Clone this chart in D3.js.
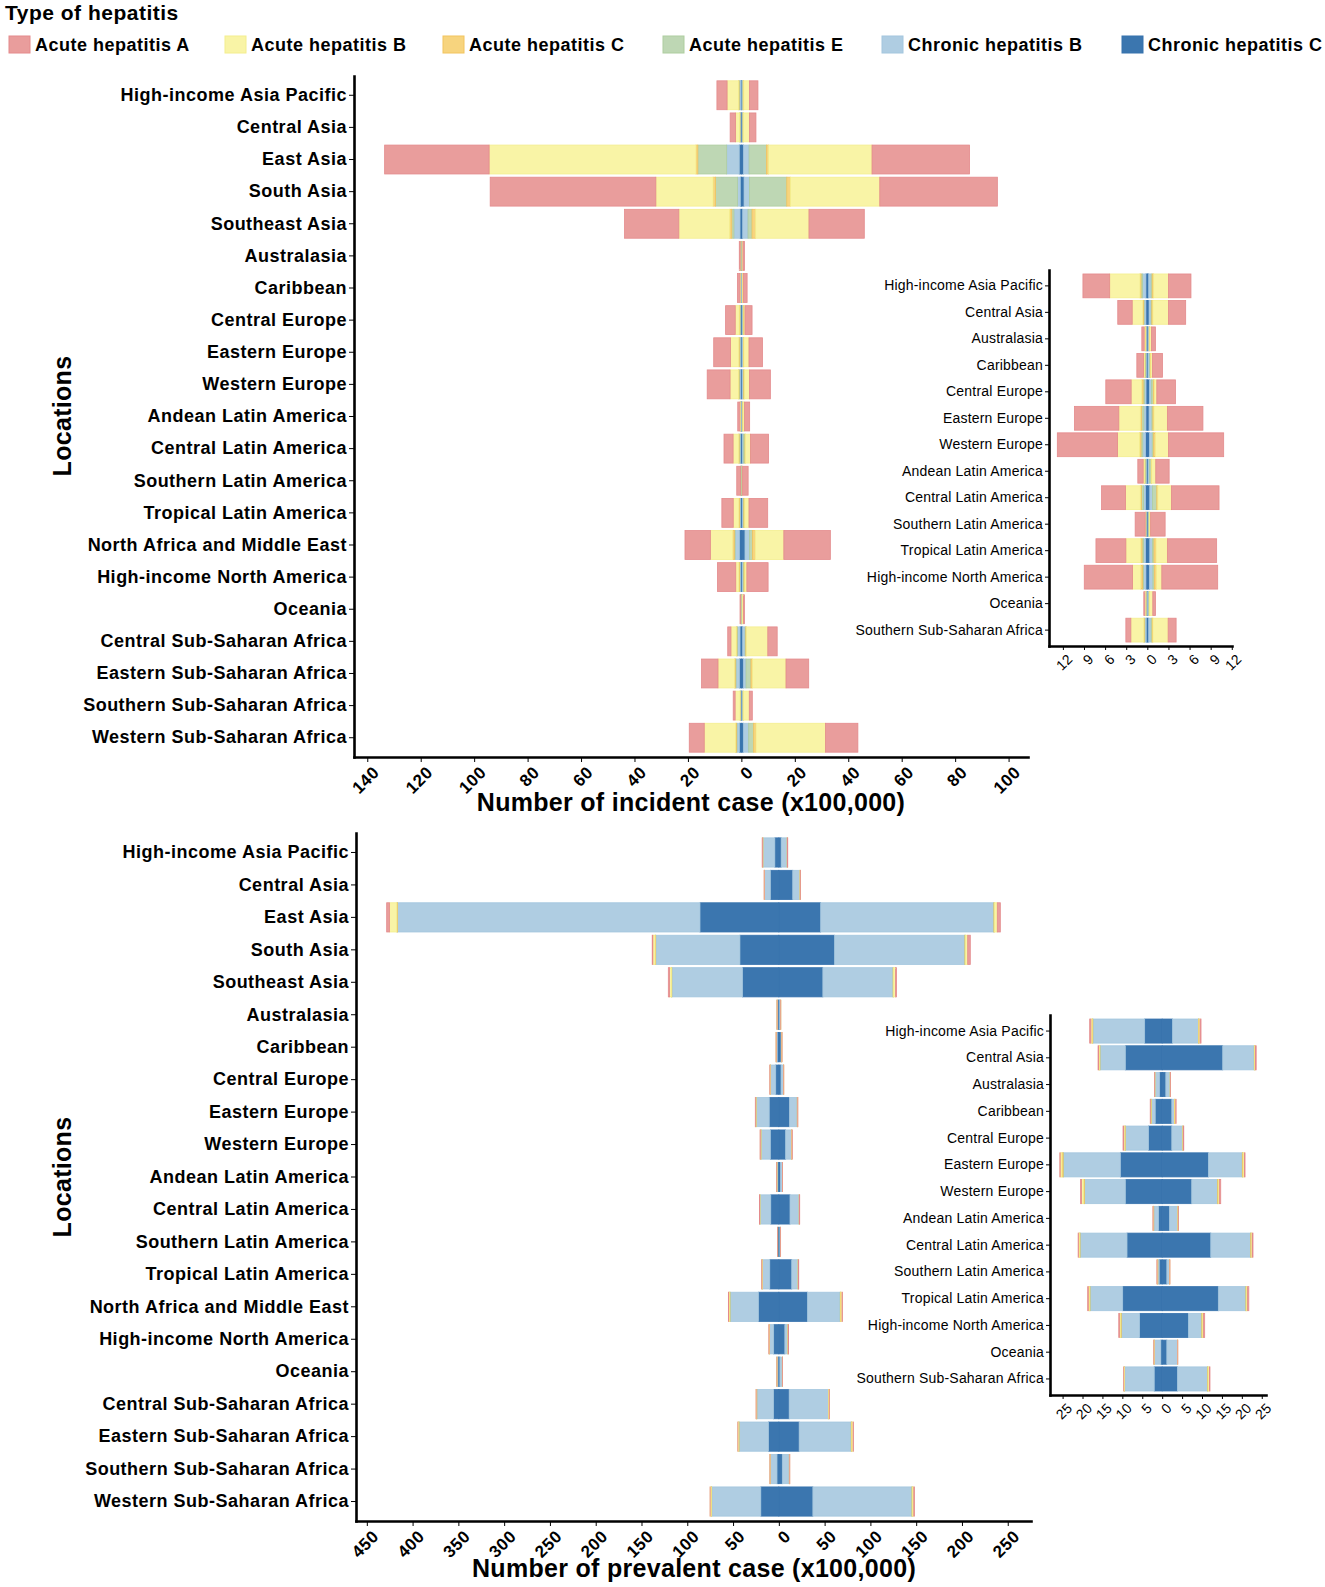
<!DOCTYPE html>
<html>
<head>
<meta charset="utf-8">
<script src="https://cdn.jsdelivr.net/npm/d3@7"></script>
<style>
  body { margin: 0; background: #fff; }
  text { font-family: "Liberation Sans", Arial, sans-serif; }
</style>
</head>
<body>
<svg id="chart" width="1325" height="1587"></svg>
<script>
// Regions, top to bottom
const regions = [
    'High-income Asia Pacific', 'Central Asia', 'East Asia', 'South Asia', 'Southeast Asia',
    'Australasia', 'Caribbean', 'Central Europe', 'Eastern Europe', 'Western Europe',
    'Andean Latin America', 'Central Latin America', 'Southern Latin America', 'Tropical Latin America',
    'North Africa and Middle East', 'High-income North America', 'Oceania',
    'Central Sub-Saharan Africa', 'Eastern Sub-Saharan Africa', 'Southern Sub-Saharan Africa',
    'Western Sub-Saharan Africa'
];
// Regions shown in the zoomed insets
const insetRegions = [
    'High-income Asia Pacific', 'Central Asia', 'Australasia', 'Caribbean', 'Central Europe',
    'Eastern Europe', 'Western Europe', 'Andean Latin America', 'Central Latin America',
    'Southern Latin America', 'Tropical Latin America', 'High-income North America', 'Oceania',
    'Southern Sub-Saharan Africa'
];

const typeNames = ['Acute hepatitis A', 'Acute hepatitis B', 'Acute hepatitis C',
    'Acute hepatitis E', 'Chronic hepatitis B', 'Chronic hepatitis C'];
const typeKeys = ['AHA', 'AHB', 'AHC', 'AHE', 'CHB', 'CHC'];

// Incident cases (x100,000), left half
const incLeftCHC = [0.2, 0.2, 0.8, 0.4, 0.5, 0.1, 0.1, 0.18, 0.2, 0.25, 0.1, 0.25, 0.1, 0.25, 0.75, 0.2, 0.05, 0.5, 0.75, 0.15, 0.75];
const incLeftCHB = [0.5, 0.25, 4.7, 1.1, 2.3, 0.1, 0.12, 0.22, 0.3, 0.4, 0.1, 0.3, 0.08, 0.3, 1.6, 0.35, 0.1, 1.0, 1.25, 0.2, 0.9];
const incLeftAHE = [0.2, 0.1, 10.8, 8.2, 0.8, 0.03, 0.12, 0.2, 0.3, 0.25, 0.15, 0.3, 0.03, 0.2, 0.3, 0.15, 0.05, 0.2, 0.3, 0.1, 0.25];
const incLeftAHC = [0.15, 0.1, 0.7, 0.9, 0.8, 0.07, 0.05, 0.2, 0.2, 0.2, 0.04, 0.15, 0.03, 0.2, 0.6, 0.25, 0.02, 0.2, 0.3, 0.05, 0.3];
const incLeftAHB = [4.3, 1.5, 77.4, 21.4, 19.0, 0.15, 0.15, 1.5, 3.05, 3.13, 0.2, 2.1, 0.06, 2.1, 8.35, 1.15, 0.13, 2.0, 6.15, 1.84, 11.7];
const incLeftAHA = [3.8, 2.05, 39.1, 62.0, 20.3, 0.33, 0.95, 3.6, 6.3, 8.56, 0.76, 3.4, 1.43, 4.25, 9.5, 6.86, 0.15, 1.2, 6.15, 0.71, 5.6];
// Incident cases, right half
const incRightCHC = [0.2, 0.25, 0.8, 1.0, 0.5, 0.1, 0.1, 0.3, 0.25, 0.3, 0.12, 0.35, 0.1, 0.35, 1.35, 0.3, 0.05, 0.5, 0.75, 0.2, 0.75];
const incRightCHB = [0.35, 0.3, 2.1, 2.0, 2.0, 0.15, 0.2, 0.3, 0.4, 0.4, 0.2, 0.4, 0.12, 0.4, 1.65, 0.5, 0.15, 0.9, 1.0, 0.35, 2.0];
const incRightAHE = [0.15, 0.1, 6.5, 14.0, 1.5, 0.03, 0.15, 0.25, 0.15, 0.2, 0.25, 0.6, 0.05, 0.2, 1.2, 0.2, 0.1, 0.3, 1.85, 0.15, 1.85];
const incRightAHC = [0.2, 0.15, 0.8, 1.35, 1.35, 0.07, 0.05, 0.15, 0.15, 0.25, 0.05, 0.15, 0.05, 0.3, 1.0, 0.3, 0.03, 0.2, 0.6, 0.1, 0.9];
const incRightAHB = [2.1, 2.2, 38.7, 33.45, 19.95, 0.25, 0.23, 0.35, 1.9, 1.85, 0.58, 1.93, 0.15, 1.6, 10.7, 0.76, 0.45, 8.0, 12.5, 2.16, 26.0];
const incRightAHA = [3.2, 2.45, 36.5, 44.0, 20.7, 0.55, 1.42, 2.65, 5.05, 7.85, 1.9, 6.76, 2.06, 7.0, 17.4, 7.94, 0.38, 3.5, 8.5, 1.13, 12.1];

// Prevalent cases (x100,000), left half
const prevLeftCHC = [4.4, 9.25, 86.1, 42.5, 39.7, 0.67, 1.75, 3.42, 10.5, 9.25, 0.92, 8.83, 0.75, 9.92, 22.3, 5.67, 0.33, 5.8, 11.3, 2.0, 19.7];
const prevLeftCHB = [13.0, 6.35, 330.3, 91.9, 77.2, 1.16, 1.0, 5.83, 14.3, 10.25, 1.18, 11.77, 0.33, 8.18, 30.9, 4.58, 1.67, 18.2, 32.1, 7.42, 53.6];
const prevLeftAHE = [0.05, 0.05, 0.3, 0.3, 0.1, 0.01, 0.02, 0.05, 0.1, 0.05, 0.03, 0.05, 0.02, 0.05, 0.3, 0.05, 0.01, 0.1, 0.2, 0.03, 0.2];
const prevLeftAHC = [0.15, 0.1, 0.6, 0.5, 0.3, 0.02, 0.08, 0.1, 0.3, 0.2, 0.05, 0.15, 0.08, 0.15, 0.5, 0.2, 0.02, 0.2, 0.3, 0.05, 0.4];
const prevLeftAHB = [0.3, 0.2, 8.0, 2.4, 2.0, 0.05, 0.1, 0.25, 0.4, 0.5, 0.1, 0.2, 0.1, 0.25, 0.8, 0.2, 0.05, 0.5, 0.8, 0.15, 1.1];
const prevLeftAHA = [0.3, 0.15, 3.0, 0.7, 1.4, 0.02, 0.05, 0.18, 0.1, 0.25, 0.05, 0.1, 0.05, 0.15, 0.3, 0.2, 0.02, 0.1, 0.1, 0.02, 0.1];
// Prevalent cases, right half
const prevRightCHC = [2.6, 15.2, 45.7, 60.9, 48.1, 0.92, 2.42, 2.42, 11.6, 7.42, 1.83, 12.2, 1.17, 14.1, 31.3, 6.58, 1.17, 11.3, 22.2, 3.83, 37.2];
const prevRightCHB = [6.5, 7.9, 189.1, 142.2, 76.7, 1.08, 0.66, 2.75, 8.5, 6.48, 2.09, 10.0, 0.66, 6.9, 35.7, 3.34, 2.66, 43.0, 56.8, 7.57, 108.1];
const prevRightAHE = [0.05, 0.05, 0.2, 0.3, 0.1, 0.01, 0.02, 0.03, 0.05, 0.05, 0.02, 0.05, 0.01, 0.05, 0.3, 0.05, 0.01, 0.1, 0.3, 0.05, 0.3];
const prevRightAHC = [0.1, 0.1, 0.6, 0.5, 0.3, 0.02, 0.1, 0.07, 0.2, 0.15, 0.05, 0.15, 0.04, 0.15, 0.5, 0.2, 0.02, 0.2, 0.5, 0.1, 0.5];
const prevRightAHB = [0.25, 0.2, 3.0, 2.4, 2.3, 0.05, 0.2, 0.1, 0.3, 0.25, 0.05, 0.2, 0.05, 0.25, 1.2, 0.2, 0.05, 0.5, 1.3, 0.35, 1.3];
const prevRightAHA = [0.25, 0.15, 3.3, 2.8, 1.1, 0.02, 0.1, 0.05, 0.15, 0.35, 0.03, 0.2, 0.02, 0.3, 0.5, 0.3, 0.02, 0.1, 0.5, 0.1, 0.8];

// Axis breaks
const incTicks = [-140, -120, -100, -80, -60, -40, -20, 0, 20, 40, 60, 80, 100];
const prevTicks = [-450, -400, -350, -300, -250, -200, -150, -100, -50, 0, 50, 100, 150, 200, 250];
const incInsetTicks = [-12, -9, -6, -3, 0, 3, 6, 9, 12];
const prevInsetTicks = [-25, -20, -15, -10, -5, 0, 5, 10, 15, 20, 25];

// Styles
const fills = { AHA: '#E99D9C', AHB: '#F9F4A6', AHC: '#F7D47E', AHE: '#BED7B4', CHB: '#AFCDE2', CHC: '#3B76AF' };
const strokes = { AHA: '#E48A8C', AHB: '#F3EE8E', AHC: '#F2C45E', AHE: '#AECD9F', CHB: '#A3C6DE', CHC: '#3672AD' };
// stacked from the centre outwards
const stackOrder = ['CHC', 'CHB', 'AHE', 'AHC', 'AHB', 'AHA'];
const FONT = '"Liberation Sans", Arial, sans-serif';

function buildRows(arrs) {
    return regions.map((r, i) => {
        const row = { region: r };
        stackOrder.forEach(k => { row[k] = arrs[k][i]; });
        return row;
    });
}

const incLeft = buildRows({ CHC: incLeftCHC, CHB: incLeftCHB, AHE: incLeftAHE, AHC: incLeftAHC, AHB: incLeftAHB, AHA: incLeftAHA });
const incRight = buildRows({ CHC: incRightCHC, CHB: incRightCHB, AHE: incRightAHE, AHC: incRightAHC, AHB: incRightAHB, AHA: incRightAHA });
const prevLeft = buildRows({ CHC: prevLeftCHC, CHB: prevLeftCHB, AHE: prevLeftAHE, AHC: prevLeftAHC, AHB: prevLeftAHB, AHA: prevLeftAHA });
const prevRight = buildRows({ CHC: prevRightCHC, CHB: prevRightCHB, AHE: prevRightAHE, AHC: prevRightAHC, AHB: prevRightAHB, AHA: prevRightAHA });

const svg = d3.select('#chart');

function drawPanel(opt) {
    const names = opt.names;
    const rowsL = names.map(n => opt.left.find(d => d.region === n));
    const rowsR = names.map(n => opt.right.find(d => d.region === n));
    const total = d => d3.sum(stackOrder, k => d[k]);
    const lMax = d3.max(rowsL, total);
    const rMax = d3.max(rowsR, total);
    const pad = 0.05 * (lMax + rMax);

    const x = d3.scaleLinear().domain([-lMax - pad, rMax + pad]).range(opt.xRange);
    const y = d3.scaleBand().domain(names).range(opt.yRange).paddingInner(0.1).paddingOuter(0.15);

    const stack = d3.stack().keys(stackOrder);
    const g = svg.append('g');

    stack(rowsL).forEach(layer => {
        g.selectAll(null).data(layer).join('rect')
            .attr('x', d => x(-d[1]))
            .attr('width', d => x(-d[0]) - x(-d[1]))
            .attr('y', d => y(d.data.region))
            .attr('height', y.bandwidth())
            .attr('fill', fills[layer.key])
            .attr('stroke', strokes[layer.key])
            .attr('stroke-width', 0.8);
    });
    stack(rowsR).forEach(layer => {
        g.selectAll(null).data(layer).join('rect')
            .attr('x', d => x(d[0]))
            .attr('width', d => x(d[1]) - x(d[0]))
            .attr('y', d => y(d.data.region))
            .attr('height', y.bandwidth())
            .attr('fill', fills[layer.key])
            .attr('stroke', strokes[layer.key])
            .attr('stroke-width', 0.8);
    });

    // x axis
    const xAxis = g.append('g')
        .attr('transform', 'translate(0,' + opt.yRange[1] + ')')
        .call(d3.axisBottom(x).tickValues(opt.ticks).tickFormat(d => Math.abs(d))
            .tickSize(opt.tickLen).tickSizeOuter(0));
    xAxis.selectAll('.tick text')
        .attr('x', 0).attr('y', 0).attr('dy', '0.71em')
        .attr('text-anchor', 'end')
        .attr('transform', 'translate(' + opt.labelShift + ',' + (opt.tickLen + 3) + ') rotate(-45)')
        .style('font-family', FONT)
        .style('font-size', opt.xFont + 'px')
        .style('font-weight', opt.bold ? 'bold' : 'normal')
        .style('letter-spacing', opt.spacing + 'px')
        .attr('fill', '#000');

    // y axis
    const yAxis = g.append('g')
        .attr('transform', 'translate(' + opt.xRange[0] + ',0)')
        .call(d3.axisLeft(y).tickSize(opt.tickLen).tickPadding(2).tickSizeOuter(0));
    yAxis.selectAll('.tick text')
        .style('font-family', FONT)
        .style('font-size', opt.yFont + 'px')
        .style('font-weight', opt.bold ? 'bold' : 'normal')
        .style('letter-spacing', opt.spacing + 'px')
        .attr('fill', '#000');

    [xAxis, yAxis].forEach(a => {
        a.select('.domain').attr('stroke', '#000').attr('stroke-width', 2.6).attr('stroke-linecap', 'square');
        a.selectAll('.tick line').attr('stroke', '#000').attr('stroke-width', 1);
    });
}

// Incidence, main
drawPanel({
    names: regions, left: incLeft, right: incRight,
    xRange: [354, 1028], yRange: [76, 757],
    ticks: incTicks, tickLen: 5, labelShift: 4, xFont: 17, yFont: 18, bold: true, spacing: 0.5
});
// Incidence, inset
drawPanel({
    names: insetRegions, left: incLeft, right: incRight,
    xRange: [1049, 1232], yRange: [270, 646],
    ticks: incInsetTicks, tickLen: 4, labelShift: 3, xFont: 14, yFont: 14, bold: false, spacing: 0.2
});
// Prevalence, main
drawPanel({
    names: regions, left: prevLeft, right: prevRight,
    xRange: [356, 1031], yRange: [833, 1521],
    ticks: prevTicks, tickLen: 5, labelShift: 4, xFont: 17, yFont: 18, bold: true, spacing: 0.5
});
// Prevalence, inset
drawPanel({
    names: insetRegions, left: prevLeft, right: prevRight,
    xRange: [1050, 1266], yRange: [1015, 1395],
    ticks: prevInsetTicks, tickLen: 4, labelShift: 3, xFont: 14, yFont: 14, bold: false, spacing: 0.2
});

// Axis titles
svg.append('text').attr('x', 691).attr('y', 811).attr('text-anchor', 'middle')
    .attr('font-size', 25).attr('font-weight', 'bold').style('letter-spacing', '0.3px')
    .text('Number of incident case (x100,000)');
svg.append('text').attr('x', 694).attr('y', 1577).attr('text-anchor', 'middle')
    .attr('font-size', 25).attr('font-weight', 'bold').style('letter-spacing', '0.3px')
    .text('Number of prevalent case (x100,000)');
[416, 1177].forEach(cy => {
    svg.append('text').attr('transform', 'translate(71,' + cy + ') rotate(-90)')
        .attr('text-anchor', 'middle').attr('font-size', 25).attr('font-weight', 'bold')
        .style('letter-spacing', '0.3px').text('Locations');
});

// Legend
svg.append('text').attr('x', 5).attr('y', 20).attr('font-size', 21).attr('font-weight', 'bold')
    .style('letter-spacing', '0.5px').text('Type of hepatitis');
const legendX = [9, 225, 443, 663, 882, 1122];
typeKeys.forEach((k, i) => {
    svg.append('rect').attr('x', legendX[i]).attr('y', 36).attr('width', 21).attr('height', 17)
        .attr('fill', fills[k]).attr('stroke', strokes[k]).attr('stroke-width', 1);
    svg.append('text').attr('x', legendX[i] + 26).attr('y', 51).attr('font-size', 18)
        .attr('font-weight', 'bold').style('letter-spacing', '0.5px').text(typeNames[i]);
});
</script>
</body>
</html>
